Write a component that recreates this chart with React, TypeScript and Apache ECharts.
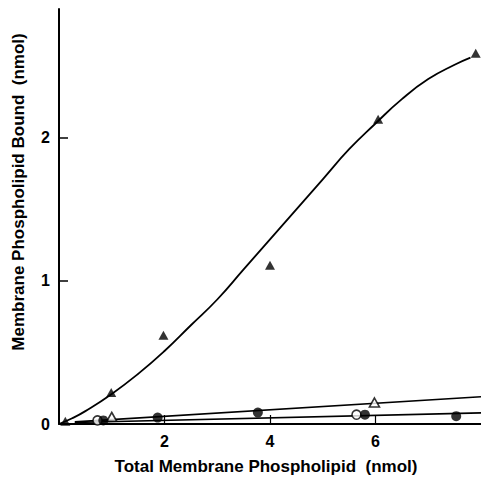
import React, { useEffect, useRef } from "react";
import * as echarts from "echarts";

// Fitted sigmoid curve
const curveX = [0, 0.25, 0.5, 1, 1.5, 2, 2.5, 3, 3.5, 4, 4.5, 5, 5.5, 6, 6.5, 7, 7.5, 7.8];
const curveY = [0, 0.04, 0.09, 0.21, 0.35, 0.51, 0.69, 0.87, 1.08, 1.29, 1.5, 1.71, 1.92, 2.1, 2.27, 2.41, 2.51, 2.56];

// Straight fitted lines
const upperLineX = [0.3, 8];
const upperLineY = [0.015, 0.19];
const lowerLineX = [0.3, 8];
const lowerLineY = [0.01, 0.078];

// Data points
const filledTriX = [0.12, 0.99, 1.98, 4.0, 6.05, 7.9];
const filledTriY = [0.02, 0.22, 0.62, 1.11, 2.13, 2.59];
const openTriX = [1.0, 5.98];
const openTriY = [0.05, 0.15];
const openCircX = [0.73, 5.64];
const openCircY = [0.025, 0.065];
const filledCircX = [0.84, 1.87, 3.77, 5.8, 7.53];
const filledCircY = [0.025, 0.045, 0.08, 0.065, 0.055];

const yLabels = [0, 1, 2];
const yTicks = [1, 2];
const xLabels = [2, 4, 6];
const xTicks = [2, 4, 6];

const xName = "Total Membrane Phospholipid  (nmol)";
const yName = "Membrane Phospholipid Bound  (nmol)";

const zip = (xs: number[], ys: number[]) => xs.map((x, i) => [x, ys[i]]);

export default function App() {
  const ref = useRef<HTMLDivElement>(null);
  useEffect(() => {
    document.body.style.margin = "0";
    if (!ref.current) return;
    const chart = echarts.init(ref.current, null, { renderer: "svg" });
    const font = "'Liberation Sans', Arial, Helvetica, sans-serif";
    chart.setOption({
      animation: false,
      backgroundColor: "#ffffff",
      grid: { left: 59, right: 0, top: 9, bottom: 55, containLabel: false },
      xAxis: {
        type: "value",
        min: 0,
        max: 8,
        interval: 2,
        axisLine: { show: true, lineStyle: { color: "#000", width: 2 } },
        axisTick: { show: true, inside: true, length: 9, customValues: xTicks, lineStyle: { color: "#000", width: 1.2 } },
        axisLabel: {
          customValues: xLabels,
          color: "#000",
          fontFamily: font,
          fontWeight: "bold",
          fontSize: 16,
          margin: 9,
        },
        splitLine: { show: false },
      },
      yAxis: {
        type: "value",
        min: 0,
        max: 2.9,
        interval: 1,
        axisLine: { show: true, lineStyle: { color: "#000", width: 2 } },
        axisTick: { show: true, inside: true, length: 9, customValues: yTicks, lineStyle: { color: "#000", width: 1.5 } },
        axisLabel: {
          customValues: yLabels,
          color: "#000",
          fontFamily: font,
          fontWeight: "bold",
          fontSize: 16,
          margin: 9,
        },
        splitLine: { show: false },
      },
      graphic: [
        {
          type: "text",
          x: 266,
          y: 466,
          style: {
            text: xName,
            fill: "#000",
            font: `bold 17px ${font}`,
            align: "center",
            verticalAlign: "middle",
          },
        },
        {
          type: "text",
          x: 18,
          y: 192,
          rotation: Math.PI / 2,
          style: {
            text: yName,
            fill: "#000",
            font: `bold 17px ${font}`,
            align: "center",
            verticalAlign: "middle",
          },
        },
      ],
      series: [
        {
          type: "line",
          data: zip(curveX, curveY),
          smooth: true,
          showSymbol: false,
          lineStyle: { color: "#000", width: 1.8 },
          z: 2,
        },
        {
          type: "line",
          data: zip(upperLineX, upperLineY),
          showSymbol: false,
          lineStyle: { color: "#000", width: 1.6 },
          z: 2,
        },
        {
          type: "line",
          data: zip(lowerLineX, lowerLineY),
          showSymbol: false,
          lineStyle: { color: "#000", width: 1.6 },
          z: 2,
        },
        {
          type: "scatter",
          data: zip(filledTriX, filledTriY),
          symbol: "triangle",
          symbolSize: [10, 9],
          itemStyle: { color: "#000" },
          clip: false,
          z: 3,
        },
        {
          type: "scatter",
          data: zip(openTriX, openTriY),
          symbol: "triangle",
          symbolSize: [10, 9],
          itemStyle: { color: "#fff", borderColor: "#000", borderWidth: 1.6 },
          clip: false,
          z: 3,
        },
        {
          type: "scatter",
          data: zip(openCircX, openCircY),
          symbol: "circle",
          symbolSize: 9,
          itemStyle: { color: "#fff", borderColor: "#000", borderWidth: 1.6 },
          clip: false,
          z: 3,
        },
        {
          type: "scatter",
          data: zip(filledCircX, filledCircY),
          symbol: "circle",
          symbolSize: 10,
          itemStyle: { color: "#000" },
          clip: false,
          z: 3,
        },
      ],
    });
    return () => chart.dispose();
  }, []);
  return <div ref={ref} style={{ width: 481, height: 479 }} />;
}
